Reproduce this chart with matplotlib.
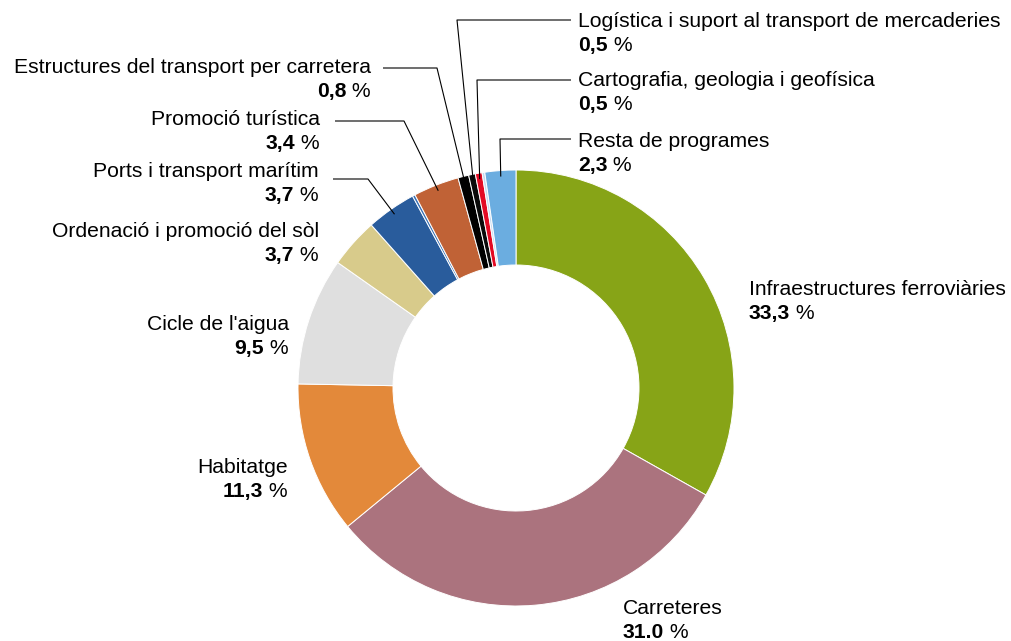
import matplotlib
matplotlib.use('Agg')
import matplotlib.pyplot as plt
import numpy as np

W, H = 1012, 641

# data (clockwise from the top)
names = ['Infraestructures ferroviàries', 'Carreteres', 'Habitatge', "Cicle de l'aigua",
         'Ordenació i promoció del sòl', 'Ports i transport marítim', '',
         'Promoció turística', 'Estructures del transport per carretera',
         'Logística i suport al transport de mercaderies',
         'Cartografia, geologia i geofísica', '', 'Resta de programes']
values = [33.3, 31.0, 11.3, 9.5, 3.7, 3.7, 0.2, 3.4, 0.8, 0.5, 0.5, 0.2, 2.3]
value_labels = ['33,3', '31.0', '11,3', '9,5', '3,7', '3,7', '', '3,4', '0,8',
                '0,5', '0,5', '', '2,3']
colors = ['#87A417', '#AB737E', '#E3893A', '#DFDFDF', '#D8CB8B', '#295C9C', '#3B72B5',
          '#C06236', '#000000', '#0A0A0A', '#E30A24', '#C6DAF1', '#6BADE0']

# label layout: x, name baseline y (from top), alignment, connector (start x, line y, elbow x)
layout = {
    0: (749, 295, 'left', None),
    1: (623, 614, 'left', None),
    2: (288, 473, 'right', None),
    3: (289, 330, 'right', None),
    4: (319, 237, 'right', None),
    5: (319, 177, 'right', (333, 179, 368)),
    7: (320, 125, 'right', (335, 121, 404)),
    8: (371, 73, 'right', (383, 68, 437)),
    9: (578, 27, 'left', (571, 20, 457)),
    10: (578, 86, 'left', (571, 80, 477)),
    11: (578, 147, 'left', (571, 139, 500)),
}
# map layout keys to slice index (skip unlabeled thin slices)
slice_of = {0: 0, 1: 1, 2: 2, 3: 3, 4: 4, 5: 5, 7: 7, 8: 8, 9: 9, 10: 10, 11: 12}

FS = 15.2
plt.rcParams['font.family'] = 'Liberation Sans'

fig = plt.figure(figsize=(W / 100, H / 100), dpi=100)
ax = fig.add_axes([0, 0, 1, 1])

cx, cy, R = 516, H - 388, 218
wedges, _ = ax.pie(values, colors=colors, startangle=90, counterclock=False,
                   center=(cx, cy), radius=R,
                   wedgeprops=dict(width=95, edgecolor='white', linewidth=0.7))
ax.set_xlim(0, W)
ax.set_ylim(0, H)
ax.set_aspect('equal')
ax.axis('off')

fig.canvas.draw()
renderer = fig.canvas.get_renderer()


def Y(y):
    return H - y


for key, (x, yb, ha, conn) in layout.items():
    i = slice_of[key]
    ax.text(x, Y(yb), names[i], ha=ha, va='baseline', fontsize=FS)
    yv = yb + 24
    if ha == 'right':
        t = ax.text(x, Y(yv), ' %', ha='right', va='baseline', fontsize=FS)
        w = t.get_window_extent(renderer).width
        ax.text(x - w, Y(yv), value_labels[i], ha='right', va='baseline',
                fontsize=FS, fontweight='bold')
    else:
        t = ax.text(x, Y(yv), value_labels[i], ha='left', va='baseline',
                    fontsize=FS, fontweight='bold')
        w = t.get_window_extent(renderer).width
        ax.text(x + w, Y(yv), ' %', ha='left', va='baseline', fontsize=FS)
    if conn is not None:
        wd = wedges[i]
        a = np.deg2rad((wd.theta1 + wd.theta2) / 2)
        px = cx + 212 * np.cos(a)
        py = cy + 212 * np.sin(a)
        x0, ly, xe = conn
        ax.plot([x0, xe, px], [Y(ly), Y(ly), py], color='black', lw=0.8,
                solid_capstyle='butt')

fig.savefig('out.png', dpi=100)
